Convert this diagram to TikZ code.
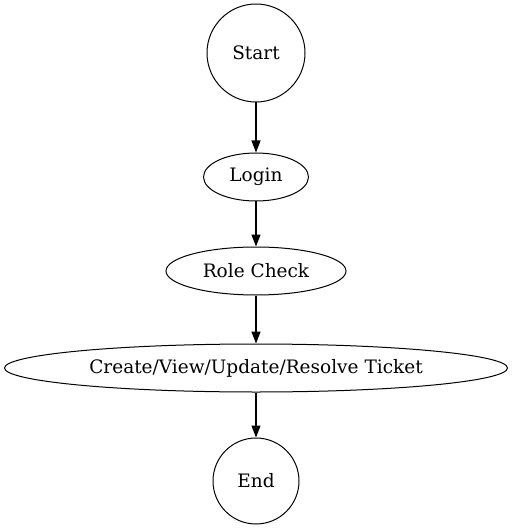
\documentclass[tikz,border=0pt]{standalone}
\usepackage{fontspec}
\setmainfont{DejaVu Serif}
\usetikzlibrary{shapes.geometric,arrows.meta}
\begin{document}
\begin{tikzpicture}[x=1pt,y=-1pt,
  every node/.style={draw,line width=1pt,inner sep=0pt,font=\fontsize{18.5}{22}\selectfont},
  circ/.style={circle,minimum size=#1},
  ell/.style={ellipse,minimum width=#1,minimum height=48},
  conn/.style={line width=1.3pt,-{Triangle[length=12pt,width=9pt]}}]
\useasboundingbox (0,0) rectangle (512,529);
\node[circ=98] (start) at (256,53) {Start};
\node[ell=105] (login) at (256,177) {Login};
\node[ell=180] (role) at (256,271) {Role Check};
\node[ell=503] (ticket) at (256,368) {Create/View/Update/Resolve Ticket};
\node[circ=86] (end) at (256,481) {End};
\draw[conn] (start) -- (login);
\draw[conn] (login) -- (role);
\draw[conn] (role) -- (ticket);
\draw[conn] (ticket) -- (end);
\end{tikzpicture}
\end{document}
